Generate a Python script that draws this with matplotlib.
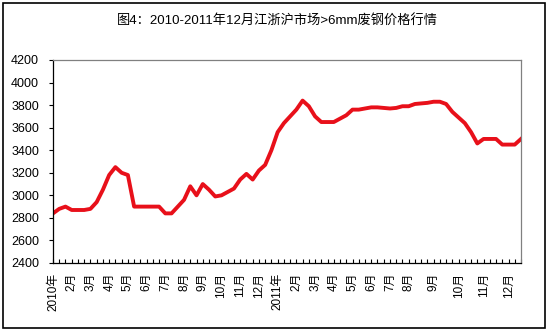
import matplotlib
matplotlib.use("Agg")
import matplotlib.pyplot as plt
from matplotlib.patches import Rectangle

plt.rcParams['font.family'] = ['Liberation Sans', 'Noto Sans CJK SC']

# price series, roughly three points a month in 2010 to Aug 2011, weekly after
prices = [2840, 2880, 2900, 2870, 2870, 2870, 2880, 2940, 3050, 3180,
          3250, 3200, 3180, 2900, 2900, 2900, 2900, 2900, 2840, 2840,
          2900, 2960, 3080, 3000, 3100, 3050, 2990, 3000, 3030, 3060,
          3140, 3190, 3140, 3220, 3270, 3400, 3560, 3640, 3700, 3760,
          3840, 3790, 3700, 3650, 3650, 3650, 3680, 3710, 3760, 3760,
          3770, 3780, 3780, 3775, 3770, 3775, 3790, 3790, 3810, 3815,
          3820, 3830, 3830, 3810, 3740, 3690, 3640, 3560, 3460, 3500,
          3500, 3500, 3450, 3450, 3450, 3500]

label_pos = [0, 3, 6, 9, 12, 15, 18, 21, 24, 27, 30, 33,
             36, 39, 42, 45, 48, 51, 54, 57, 61, 65, 69, 73]
label_txt = ["2010年", "2月", "3月", "4月", "5月", "6月", "7月", "8月", "9月", "10月", "11月", "12月",
             "2011年", "2月", "3月", "4月", "5月", "6月", "7月", "8月", "9月", "10月", "11月", "12月"]

yticks = [2400, 2600, 2800, 3000, 3200, 3400, 3600, 3800, 4000, 4200]

W, H = 549, 330
fig = plt.figure(figsize=(W / 100, H / 100), dpi=100)
fig.patches.append(Rectangle((3 / W, 2 / H), 542 / W, 325 / H, transform=fig.transFigure,
                             fill=False, edgecolor='black', linewidth=1.2))

ax = fig.add_axes([53 / W, 1 - 263 / H, 468 / W, 203 / H])
x = list(range(len(prices)))
ax.plot(x, prices, color='#e8101a', linewidth=2.8, solid_joinstyle='round')

ax.set_xlim(0, len(prices) - 1)
ax.set_ylim(2400, 4200)
ax.set_yticks(yticks)
ax.set_yticklabels([str(v) for v in yticks], fontsize=9)

labels = [''] * len(prices)
for p, t in zip(label_pos, label_txt):
    labels[p] = t
ax.set_xticks(x)
ax.set_xticklabels(labels, rotation=90, fontsize=8.5, va='top', ha='center')

ax.tick_params(axis='x', direction='in', length=3, width=0.8, pad=7)
ax.tick_params(axis='y', direction='out', length=3, width=0.8, pad=7)

for s in ['top', 'right']:
    ax.spines[s].set_color('#808080')
    ax.spines[s].set_linewidth(0.9)
for s in ['left', 'bottom']:
    ax.spines[s].set_color('black')
    ax.spines[s].set_linewidth(0.9)

fig.text(277 / W, 1 - 20 / H, "图4：2010-2011年12月江浙沪市场>6mm废钢价格行情",
         ha='center', va='center', fontsize=9.5)

fig.savefig("out.png", dpi=100)
